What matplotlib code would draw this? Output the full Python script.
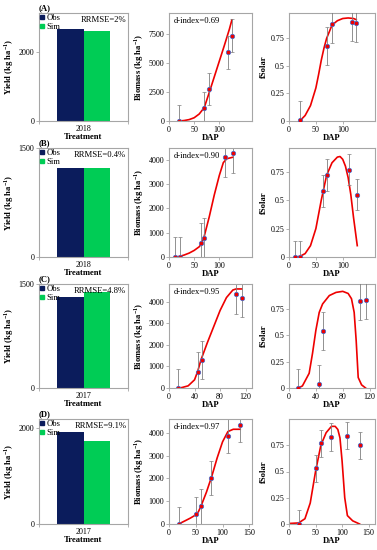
import numpy as np
import matplotlib
matplotlib.use("Agg")
import matplotlib.pyplot as plt
from matplotlib.lines import Line2D

plt.rcParams.update({
    "font.family": "Liberation Serif",
    "font.size": 5.5,
    "mathtext.fontset": "custom",
    "mathtext.rm": "Liberation Serif",
    "mathtext.bf": "Liberation Serif:bold",
})

# ── data ──────────────────────────────────────────────────────────────
panels = ["(A)", "(B)", "(C)", "(D)"]
years = ["2018", "2018", "2017", "2017"]
yield_obs = [2655, 1222, 1312, 1917]
yield_sim = [2600, 1220, 1378, 1730]
rrmse = ["RRMSE=2%", "RRMSE=0.4%", "RRMSE=4.8%", "RRMSE=9.1%"]
yield_top = [3120, 1500, 1500, 2190]
yield_ticks = [[0, 2000], [0, 1500], [0, 1500], [0, 2000]]

dindex = ["d-index=0.69", "d-index=0.90", "d-index=0.95", "d-index=0.97"]

bio_obs_x = [[20, 70, 80, 117, 125],
             [12, 21, 64, 70, 112, 127],
             [14, 45, 51, 105, 114],
             [18, 50, 60, 79, 110, 133]]
bio_obs_y = [[0, 1100, 2750, 5900, 7350],
             [0, 0, 570, 780, 4100, 4270],
             [0, 760, 1300, 4350, 4180],
             [0, 420, 770, 2020, 3870, 4340]]
bio_err = [1400, 820, 900, 750]
bio_sim_x = [[20, 30, 40, 50, 60, 70, 80, 90, 100, 110, 120, 125],
             [12, 20, 30, 40, 50, 60, 65, 70, 80, 90, 100, 108, 115, 127],
             [14, 20, 30, 40, 45, 50, 60, 70, 80, 90, 100, 105, 114],
             [18, 30, 40, 50, 55, 60, 70, 80, 90, 100, 110, 120, 133]]
bio_sim_y = [[0, 40, 120, 280, 600, 1150, 2450, 3800, 5150, 6500, 7900, 8700],
             [0, 20, 80, 160, 270, 420, 560, 850, 1650, 2550, 3350, 3880, 4040, 4100],
             [0, 20, 100, 380, 780, 1300, 2100, 2850, 3600, 4200, 4550, 4600, 4600],
             [0, 140, 260, 400, 540, 800, 1400, 2100, 2900, 3600, 4050, 4150, 4150]]
bio_top = [9300, 4480, 4830, 4600]
bio_ticks = [[0, 2500, 5000, 7500], [0, 1000, 2000, 3000, 4000],
             [0, 1000, 2000, 3000, 4000], [0, 1000, 2000, 3000, 4000]]

fs_obs_x = [[20, 70, 80, 117, 125],
            [12, 21, 64, 70, 112, 127],
            [14, 45, 51, 105, 114],
            [18, 50, 60, 80, 110, 133]]
fs_obs_y = [[0.01, 0.68, 0.88, 0.90, 0.89],
            [0.0, 0.0, 0.58, 0.72, 0.77, 0.55],
            [0.0, 0.04, 0.54, 0.83, 0.84],
            [0.0, 0.53, 0.77, 0.83, 0.84, 0.75]]
fs_err = [0.17, 0.14, 0.18, 0.13]
fs_sim_x = [[20, 30, 40, 50, 55, 60, 65, 70, 80, 90, 100, 110, 120, 125],
            [12, 20, 30, 40, 50, 60, 70, 80, 90, 95, 100, 105, 110, 115, 120, 127],
            [14, 20, 30, 35, 40, 45, 50, 60, 70, 80, 88, 93, 97, 100, 103, 108, 114],
            [0, 18, 30, 40, 50, 60, 70, 80, 87, 92, 96, 100, 105, 110, 120, 133]]
fs_sim_y = [[0.0, 0.05, 0.14, 0.30, 0.42, 0.55, 0.66, 0.75, 0.87, 0.91, 0.93, 0.935, 0.93, 0.92],
            [0.0, 0.005, 0.03, 0.10, 0.25, 0.50, 0.72, 0.83, 0.88, 0.885, 0.86, 0.80, 0.70, 0.55, 0.35, 0.10],
            [0.0, 0.02, 0.14, 0.33, 0.55, 0.72, 0.80, 0.88, 0.91, 0.92, 0.90, 0.85, 0.72, 0.45, 0.10, 0.03, 0.0],
            [0.005, 0.01, 0.05, 0.20, 0.50, 0.75, 0.87, 0.93, 0.93, 0.90, 0.82, 0.60, 0.25, 0.08, 0.03, 0.0]]
fs_top = [0.98, 0.96, 0.99, 1.0]

x_lims_bio = [165, 165, 130, 155]
x_lims_fs = [160, 160, 128, 162]
x_ticks = [[0, 50, 100], [0, 50, 100], [0, 40, 80, 120], [0, 50, 100, 150]]

# ── layout (pixels) ──────────────────────────────────────────────────
W, H = 377, 550
cols = [(39, 128), (169, 252), (289, 375)]
rows = [(13, 121), (148, 257), (284, 388), (419, 524)]

C_OBS = "#0b1c5c"
C_SIM = "#00cc55"
C_FRAME = "#a6a6a6"
C_ERR = "#7f7f7f"

fig = plt.figure(figsize=(W / 100, H / 100), dpi=100)


def make_ax(c, r):
    x0, x1 = cols[c]
    y0, y1 = rows[r]
    ax = fig.add_axes([x0 / W, 1 - y1 / H, (x1 - x0) / W, (y1 - y0) / H])
    for s in ax.spines.values():
        s.set_color(C_FRAME)
        s.set_linewidth(0.8)
    ax.tick_params(length=2, width=0.6, color=C_FRAME, pad=1.5, labelsize=5.8)
    return ax


def fmt(v):
    return f"{v:g}"


LAB = dict(fontweight="bold", fontsize=6.2)

for r in range(4):
    # yield bars
    ax = make_ax(0, r)
    ax.bar(-0.15, yield_obs[r], 0.3, color=C_OBS)
    ax.bar(0.15, yield_sim[r], 0.3, color=C_SIM)
    ax.set_xlim(-0.5, 0.5)
    ax.set_ylim(0, yield_top[r])
    ax.set_yticks(yield_ticks[r])
    ax.set_xticks([0])
    ax.set_xticklabels([years[r]])
    ax.tick_params(axis="x", length=0, pad=3)
    ax.set_xticks([-0.5, 0.5], minor=True)
    ax.tick_params(axis="x", which="minor", length=2, width=0.6, color=C_FRAME)
    ax.set_xlabel("Treatment", labelpad=0, **LAB)
    ax.set_ylabel("Yield (kg ha$^{\\mathbf{-1}}$)", labelpad=2, **LAB)
    handles = [Line2D([], [], marker="s", ls="", color=C_OBS, markersize=3.5),
               Line2D([], [], marker="s", ls="", color=C_SIM, markersize=3.5)]
    ax.legend(handles, ["Obs", "Sim"], loc="upper left", frameon=False,
              fontsize=6.2, handlelength=0.6, handletextpad=0.2,
              borderaxespad=0.0, borderpad=0.1, labelspacing=0.1)
    ax.text(0.98, 0.97, rrmse[r], transform=ax.transAxes, ha="right",
            va="top", fontsize=6.2)
    ax.text(0.0, 1.01, panels[r], transform=ax.transAxes, ha="left",
            va="bottom", fontsize=6.2, fontweight="bold")

    # biomass
    ax = make_ax(1, r)
    ax.plot(bio_sim_x[r], bio_sim_y[r], color="#ee0000", lw=1.2, zorder=2)
    ax.errorbar(bio_obs_x[r], bio_obs_y[r], yerr=bio_err[r], fmt="o",
                color="#ee0000", mec="#3b6fd6", mew=0.5, ms=3.2,
                ecolor=C_ERR, elinewidth=0.6, capsize=1.5, capthick=0.6,
                zorder=3)
    ax.set_xlim(0, x_lims_bio[r])
    ax.set_ylim(0, bio_top[r])
    ax.set_xticks(x_ticks[r])
    ax.set_yticks(bio_ticks[r])
    ax.set_yticklabels([fmt(v) for v in bio_ticks[r]])
    ax.set_xlabel("DAP", labelpad=0, **LAB)
    ax.set_ylabel("Biomass (kg ha$^{\\mathbf{-1}}$)", labelpad=2, **LAB)
    ax.text(0.06, 0.96, dindex[r], transform=ax.transAxes, ha="left",
            va="top", fontsize=6.2)
    for s in ax.spines.values():
        s.set_zorder(5)

    # fSolar
    ax = make_ax(2, r)
    ax.plot(fs_sim_x[r], fs_sim_y[r], color="#ee0000", lw=1.2, zorder=2)
    ax.errorbar(fs_obs_x[r], fs_obs_y[r], yerr=fs_err[r], fmt="o",
                color="#ee0000", mec="#3b6fd6", mew=0.5, ms=3.2,
                ecolor=C_ERR, elinewidth=0.6, capsize=1.5, capthick=0.6,
                zorder=3)
    ax.set_xlim(0, x_lims_fs[r])
    ax.set_ylim(0, fs_top[r])
    ax.set_xticks(x_ticks[r])
    ax.set_yticks([0, 0.25, 0.5, 0.75])
    ax.set_yticklabels(["0", "0.25", "0.5", "0.75"])
    ax.set_xlabel("DAP", labelpad=0, **LAB)
    ax.set_ylabel("fSolar", labelpad=2, **LAB)

fig.savefig("out.png", dpi=100)
